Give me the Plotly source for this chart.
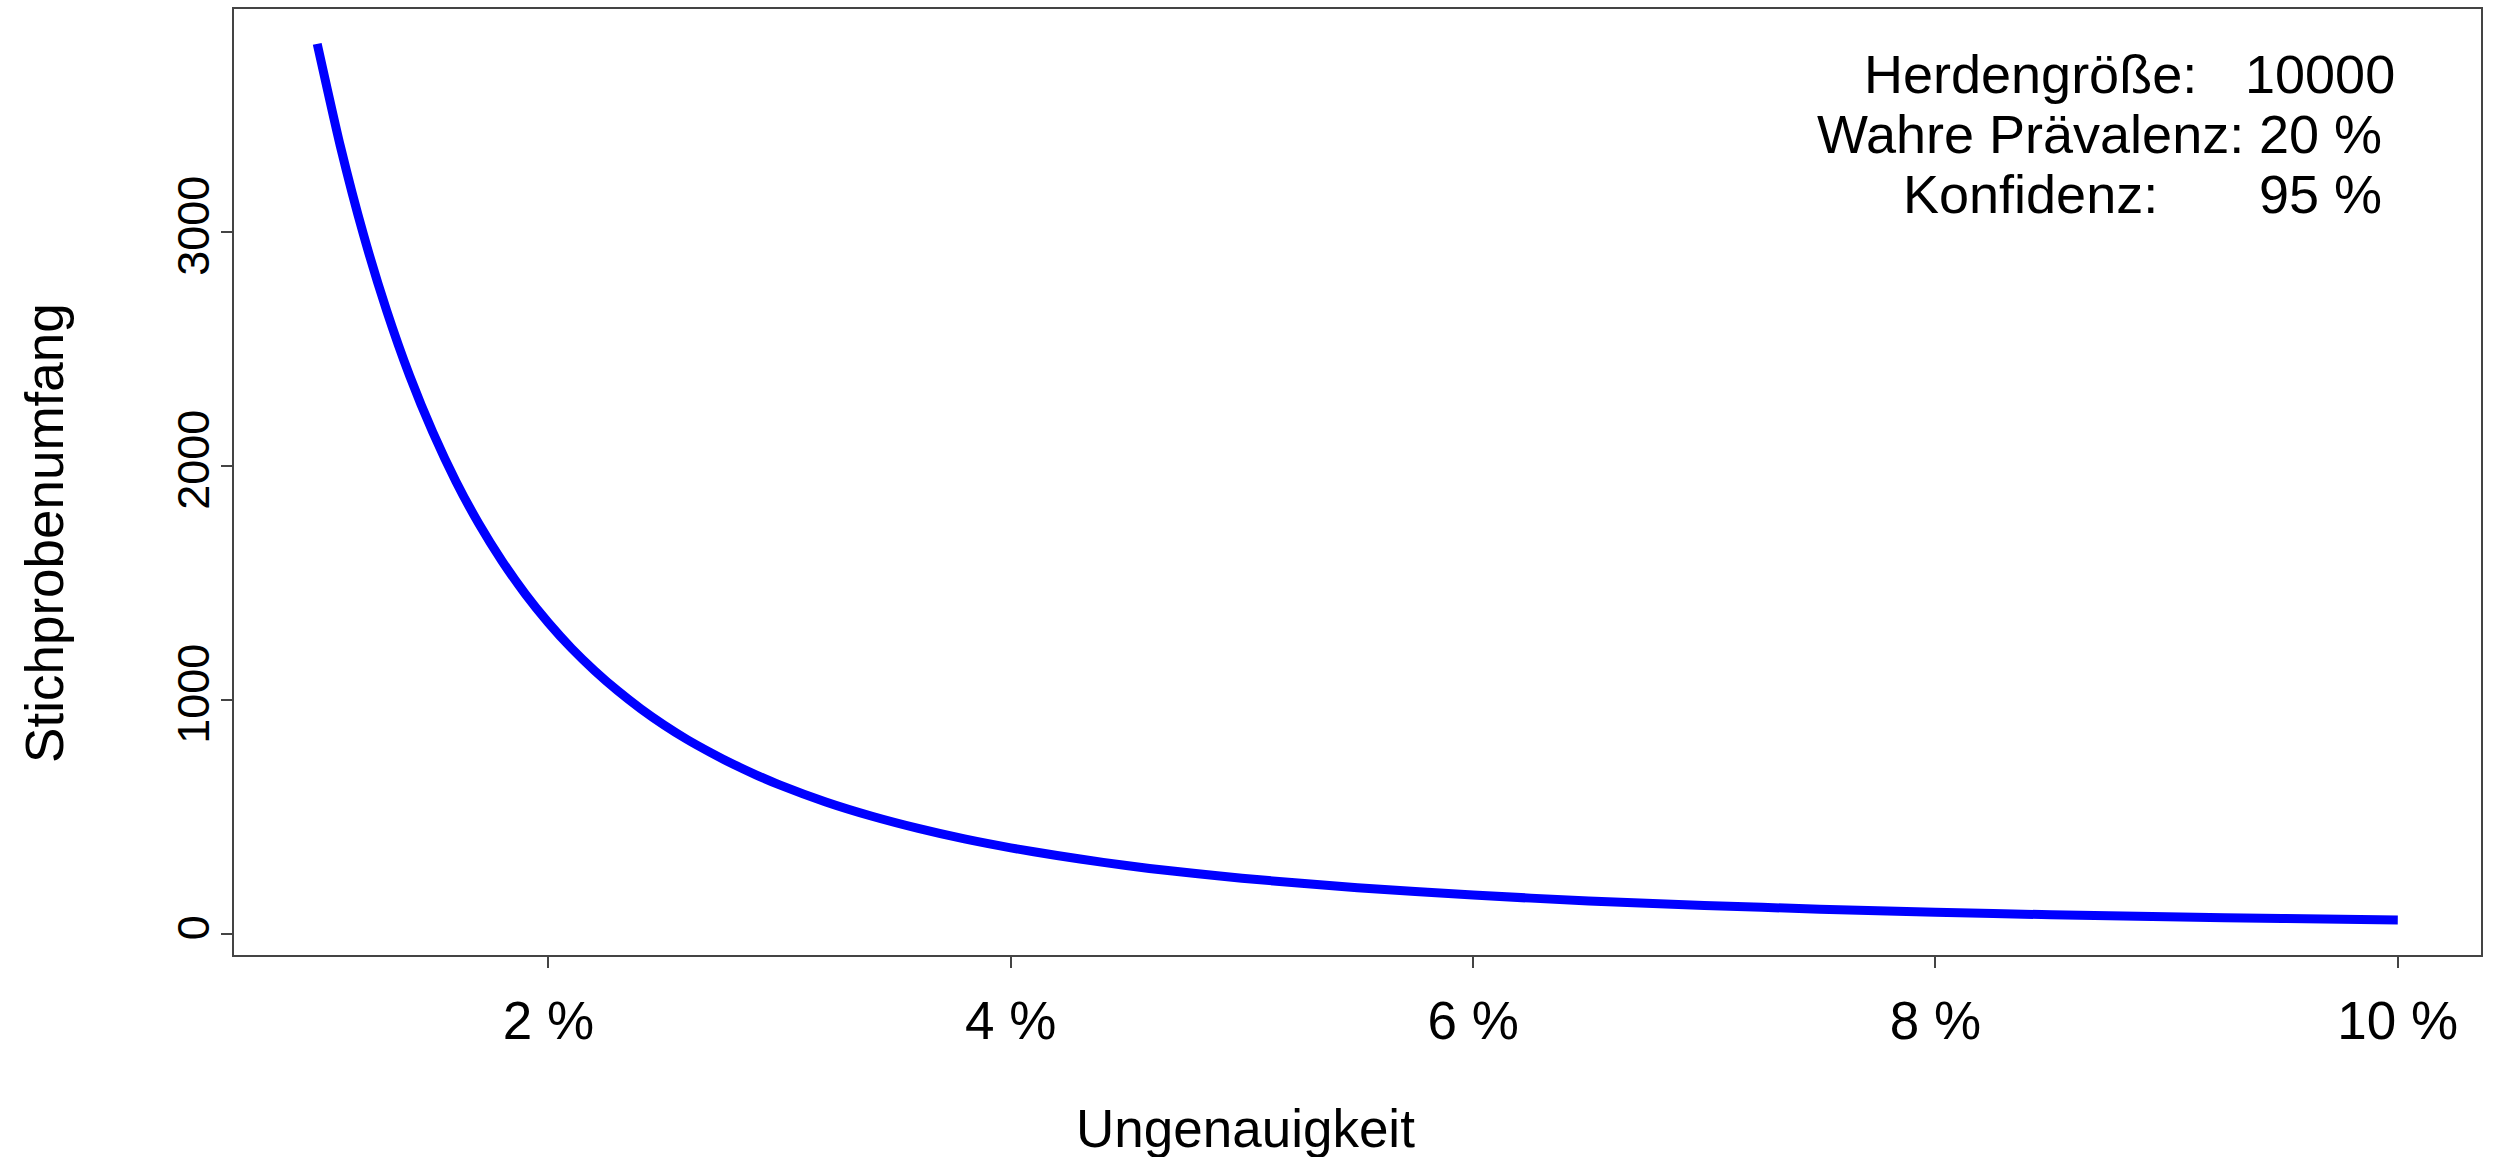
import plotly.graph_objects as go

# Data
ungenauigkeit = [1.0, 1.1, 1.2, 1.3, 1.4, 1.5, 1.6, 1.7, 1.8, 1.9, 2.0,
                 2.1, 2.2, 2.3, 2.4, 2.5, 2.6, 2.7, 2.8, 2.9, 3.0,
                 3.2, 3.4, 3.6, 3.8, 4.0, 4.2, 4.4, 4.6, 4.8, 5.0,
                 5.5, 6.0, 6.5, 7.0, 7.5, 8.0, 8.5, 9.0, 9.5, 10.0]
stichprobenumfang = [3806, 3369, 2991, 2667, 2387, 2146, 1936, 1754, 1595, 1455, 1332,
                     1223, 1127, 1041, 964, 895, 833, 778, 727, 681, 639,
                     566, 505, 453, 408, 370, 337, 308, 282, 260, 240,
                     199, 168, 143, 124, 108, 95, 84, 75, 68, 62]
x_tickvals = [2, 4, 6, 8, 10]
x_ticktext = ["2 %", "4 %", "6 %", "8 %", "10 %"]
y_tickvals = [0, 1000, 2000, 3000]
y_ticktext = ["0", "1000", "2000", "3000"]
info_labels = ["Herdengröße:", "Wahre Prävalenz:", "Konfidenz:"]
info_values = ["10000", "20 %", "95 %"]

W, H = 2494, 1157
L, R, T, B = 234, 2481, 7, 955
FONT = "Liberation Sans, Arial, sans-serif"

def px(x):
    return (x - L) / (R - L)

def py(y):
    return (B - y) / (B - T)

fig = go.Figure()
fig.add_trace(go.Scatter(
    x=ungenauigkeit, y=stichprobenumfang, mode="lines",
    line=dict(color="#0000FF", width=9, shape="spline", smoothing=0.6),
    showlegend=False, hoverinfo="skip"))

axis_common = dict(showline=True, linecolor="#444444", linewidth=1.5, mirror=True,
                   showgrid=False, zeroline=False, ticks="outside", ticklen=11,
                   tickwidth=1.5, tickcolor="#444444")

fig.update_xaxes(range=[0.64, 10.36], tickvals=x_tickvals, ticktext=x_ticktext,
                 ticklabelstandoff=8,
                 tickfont=dict(family=FONT, size=53, color="black"), **axis_common)
fig.update_yaxes(range=[-88, 3955], tickvals=y_tickvals, ticktext=y_ticktext,
                 tickangle=-90, ticklabelstandoff=-6,
                 tickfont=dict(family=FONT, size=45, color="black"), **axis_common)

annotations = []
# axis titles
annotations.append(dict(text="Ungenauigkeit", x=px(1245), y=py(1129), xref="paper", yref="paper",
                        xanchor="center", yanchor="middle", showarrow=False,
                        font=dict(family=FONT, size=53, color="black")))
annotations.append(dict(text="Stichprobenumfang", x=px(45), y=py(532), xref="paper", yref="paper",
                        xanchor="center", yanchor="middle", showarrow=False, textangle=-90,
                        font=dict(family=FONT, size=53, color="black")))
# info text
baselines = [92, 152, 212]
for lab, val, bl in zip(info_labels, info_values, baselines):
    yc = bl - 0.36 * 54
    annotations.append(dict(text=lab, x=px(2030), y=py(yc), xref="paper", yref="paper",
                            xanchor="center", yanchor="middle", showarrow=False,
                            font=dict(family=FONT, size=54, color="black")))
    annotations.append(dict(text=val, x=px(2320), y=py(yc), xref="paper", yref="paper",
                            xanchor="center", yanchor="middle", showarrow=False,
                            font=dict(family=FONT, size=54, color="black")))

fig.update_layout(width=W, height=H, autosize=False,
                  margin=dict(l=L, r=W - R, t=T, b=H - B, pad=0),
                  paper_bgcolor="white", plot_bgcolor="white",
                  annotations=annotations)

fig.write_html("out.html", config={"displayModeBar": False},
               post_script="document.body.style.margin='0';document.body.style.overflow='hidden';")
